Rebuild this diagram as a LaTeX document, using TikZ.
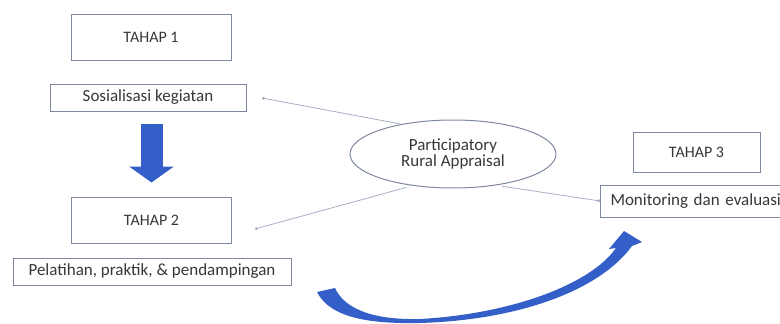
\documentclass[tikz,border=0pt]{standalone}
\usepackage{fontspec}
\setmainfont{Carlito}
\usetikzlibrary{arrows.meta, shapes.geometric}
\definecolor{boxline}{RGB}{125,135,160}
\definecolor{linkline}{RGB}{165,175,195}
\definecolor{arrowblue}{RGB}{52,95,200}
\definecolor{txt}{RGB}{55,55,55}

\begin{document}
\begin{tikzpicture}[x=1pt, y=-1pt,
	tahap/.style={draw=boxline, line width=1pt, minimum width=160pt, minimum height=46pt, text=txt, font=\fontsize{16}{18}\selectfont},
	kegiatan/.style={draw=boxline, line width=1pt, minimum height=27pt, inner sep=0pt, text=txt, font=\fontsize{17}{19}\selectfont},
	link/.style={draw=linkline, line width=0.8pt, -{Circle[length=3pt]}},
	bigarrow/.style={draw=arrowblue, line width=22pt, -{Triangle[width=44pt, length=16pt]}}]
	\useasboundingbox (0,0) rectangle (780,324);
	\clip (0,0) rectangle (780,324);

	% Draw the stages
	\node[tahap] (t1) at (151,37) {TAHAP 1};
	\node[kegiatan, minimum width=196pt] (k1) at (148,97.5) {Sosialisasi kegiatan};

	\node[tahap] (t2) at (151.5,220) {TAHAP 2};
	\node[kegiatan, minimum width=278pt] (k2) at (152,271.5) {Pelatihan, praktik, \& pendampingan};

	\node[tahap, minimum width=127pt, minimum height=40pt] (t3) at (696.5,152) {TAHAP 3};
	\node[kegiatan, minimum height=32pt, anchor=west, inner xsep=10pt, text width=190pt, align=left] (k3) at (600,201) {Monitoring dan evaluasi};

	% Draw the ellipse in the middle
	\node[draw=boxline, ellipse, line width=1pt, minimum width=206pt, minimum height=68pt, align=center, text=txt, font=\fontsize{17}{16}\selectfont] (pra) at (453,154) {Participatory\\Rural Appraisal};

	% Draw the thin links
	\coordinate (d1) at (262,98);
	\coordinate (d2) at (255,229);
	\draw[link] (pra.150) -- (d1);
	\draw[link, shorten <=6pt] (pra.218) -- (d2);
	\draw[link, shorten <=6pt] (pra.324) -- (k3.west);

	% Draw the blue arrows
	\draw[bigarrow, shorten <=12pt, shorten >=14pt] (t2.north |- k1.south) -- (t2.north);

	\fill[arrowblue] (317,292) .. controls (330,318) and (370,324) .. (420,323)
		.. controls (520,320) and (600,290) .. (632,246)
		-- (642,242) -- (624,231) -- (609,249) -- (616,248)
		.. controls (590,285) and (510,314) .. (420,319)
		.. controls (375,320) and (345,310) .. (335,288) -- cycle;

\end{tikzpicture}
\end{document}
